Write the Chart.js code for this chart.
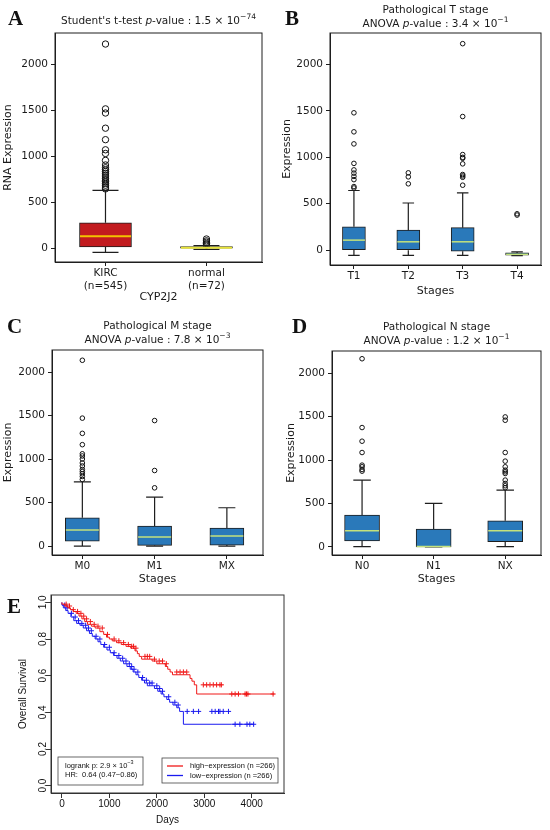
<!DOCTYPE html>
<html>
<head>
<meta charset="utf-8">
<title>CYP2J2 expression in KIRC</title>
<script src="https://cdn.jsdelivr.net/npm/chart.js@4.4.1/dist/chart.umd.min.js"></script>
<style>
  body { margin: 0; background: #fff; }
  #page { position: relative; width: 550px; height: 830px; overflow: hidden; background: #fff; }
  canvas { position: absolute; }
  .tag { position: absolute; font: bold 21px "Liberation Serif", serif; line-height: 21px; color: #111; }
</style>
</head>
<body>
<div id="page">
  <canvas id="chartA" width="275" height="304" style="left:0;top:0"></canvas>
  <canvas id="chartB" width="275" height="300" style="left:275px;top:0"></canvas>
  <canvas id="chartC" width="275" height="290" style="left:0;top:300px"></canvas>
  <canvas id="chartD" width="275" height="290" style="left:275px;top:300px"></canvas>
  <canvas id="chartE" width="290" height="240" style="left:0;top:590px"></canvas>
  <div class="tag" style="left:8px;top:8px">A</div>
  <div class="tag" style="left:285px;top:8px">B</div>
  <div class="tag" style="left:7px;top:316px">C</div>
  <div class="tag" style="left:292px;top:316px">D</div>
  <div class="tag" style="left:7px;top:596px">E</div>
</div>
<script>
// ---- data ----

// A: CYP2J2, tumour vs normal
var groupsA = [['KIRC', '(n=545)'], ['normal', '(n=72)']];
var q1A = [18, 0];
var medianA = [135, 10];
var q3A = [282, 22];
var lowA = [-40, -8];
var highA = [633, 32];
var outliersA = [
  [650, 670, 690, 710, 730, 745, 760, 780, 800, 820, 840, 860, 880, 910, 960, 1035, 1075, 1185, 1310, 1475, 1520, 2225],
  [40, 55, 70, 85, 105]
];

// B: pathological T stage
var stagesB = ['T1', 'T2', 'T3', 'T4'];
var q1B = [5, 0, -12, -55];
var medianB = [108, 90, 90, -45];
var q3B = [252, 215, 242, -30];
var lowB = [-57, -57, -57, -60];
var highB = [643, 508, 618, -18];
var outliersB = [
  [670, 685, 760, 795, 830, 865, 935, 1145, 1275, 1480],
  [715, 790, 833],
  [700, 785, 800, 815, 930, 990, 1000, 1030, 1440, 2225],
  [378, 392]
];

// C: pathological M stage
var stagesC = ['M0', 'M1', 'MX'];
var q1C = [57, 8, 11];
var medianC = [184, 103, 115];
var q3C = [325, 229, 206];
var lowC = [-2, -2, -2];
var highC = [738, 562, 440];
var outliersC = [
  [765, 800, 830, 855, 880, 920, 955, 1000, 1035, 1060, 1165, 1295, 1470, 2135],
  [669, 868, 1442],
  []
];

// D: pathological N stage
var stagesD = ['N0', 'N1', 'NX'];
var q1D = [69, 2, 61];
var medianD = [187, 5, 187];
var q3D = [367, 206, 302];
var lowD = [4, 0, 4];
var highD = [769, 501, 654];
var outliersD = [
  [872, 891, 922, 941, 1086, 1216, 1373, 2164],
  [],
  [681, 704, 730, 769, 845, 864, 883, 922, 987, 1086, 1457, 1495]
];

var exprTicks = [0, 500, 1000, 1500, 2000];

// E: Kaplan-Meier, high vs low expression
var hiDays = [0, 60, 120, 180, 240, 300, 360, 420, 480, 540, 620, 700, 800, 880, 940, 1000, 1060, 1150, 1250, 1350,
  1450, 1540, 1590, 1630, 1680, 1900, 2000, 2180, 2230, 2280, 2330, 2700, 2740, 2790, 2840, 3520, 4480];
var hiSurv = [1.000, 0.990, 0.980, 0.970, 0.960, 0.950, 0.940, 0.925, 0.910, 0.895, 0.880, 0.870, 0.860, 0.840, 0.825,
  0.810, 0.800, 0.790, 0.780, 0.770, 0.760, 0.750, 0.735, 0.720, 0.705, 0.690, 0.680, 0.665, 0.650, 0.635, 0.620,
  0.605, 0.585, 0.570, 0.550, 0.500, 0.500];
var loDays = [0, 30, 80, 130, 190, 250, 310, 380, 450, 520, 580, 640, 700, 760, 820, 880, 950, 1020, 1090, 1160, 1230,
  1300, 1370, 1440, 1500, 1560, 1620, 1680, 1740, 1800, 1950, 2020, 2090, 2150, 2210, 2270, 2340, 2420, 2480, 2560,
  3570, 4050];
var loSurv = [1.000, 0.985, 0.970, 0.955, 0.940, 0.920, 0.900, 0.885, 0.875, 0.860, 0.845, 0.830, 0.815, 0.800, 0.785,
  0.770, 0.755, 0.740, 0.725, 0.710, 0.695, 0.680, 0.665, 0.650, 0.635, 0.620, 0.605, 0.590, 0.575, 0.560, 0.545,
  0.530, 0.515, 0.500, 0.485, 0.470, 0.455, 0.440, 0.425, 0.405, 0.335, 0.335];
var hiCensor = [90, 160, 240, 330, 400, 460, 520, 600, 680, 760, 850, 960, 1100, 1200, 1300, 1400, 1470, 1510, 1560,
  1750, 1800, 1850, 1950, 2050, 2120, 2200, 2420, 2490, 2560, 2630, 2980, 3050, 3120, 3190, 3260, 3330, 3360, 3580,
  3650, 3720, 3860, 3890, 3920, 4450];
var loCensor = [60, 110, 200, 280, 350, 420, 500, 560, 620, 720, 800, 900, 1000, 1100, 1200, 1280, 1350, 1420, 1470,
  1520, 1600, 1700, 1780, 1850, 1900, 2000, 2060, 2120, 2250, 2380, 2450, 2640, 2770, 2880, 3160, 3230, 3300, 3330,
  3400, 3510, 3650, 3750, 3900, 3960, 4040];
var dayTicks = [0, 1000, 2000, 3000, 4000];
var survTicks = [0, 0.2, 0.4, 0.6, 0.8, 1.0];

// ---- styling ----
var EDGE = '#1e1e1e';
var TXT = '#1a1a1a';
var BLUE_BOX = '#2a79ba';
var GREEN_MED = '#c4e27c';

Chart.defaults.font.family = 'DejaVu Sans';
Chart.defaults.color = TXT;

// draw a run of text pieces (italic / superscript) starting at x
function drawRich(ctx, segs, x, y, size, family, centered) {
  var fonts = [], widths = [], total = 0;
  segs.forEach(function (s) {
    var f = (s.it ? 'italic ' : '') + (s.sup ? size * 0.72 : size) + 'px ' + family;
    ctx.font = f;
    var w = ctx.measureText(s.t).width;
    fonts.push(f); widths.push(w); total += w;
  });
  if (centered) x -= total / 2;
  segs.forEach(function (s, i) {
    ctx.font = fonts[i];
    ctx.fillText(s.t, x, y - (s.sup ? size * 0.42 : 0));
    x += widths[i];
  });
}

function titlePlugin(lines, ys) {
  return {
    id: 'richTitle',
    afterDraw: function (chart) {
      var a = chart.chartArea, ctx = chart.ctx;
      ctx.save();
      ctx.fillStyle = TXT;
      ctx.textBaseline = 'middle';
      ctx.textAlign = 'left';
      lines.forEach(function (segs, k) {
        drawRich(ctx, segs, (a.left + a.right) / 2, ys[k], 10.5, '"DejaVu Sans"', true);
      });
      ctx.restore();
    }
  };
}

var frame = {
  id: 'frame',
  afterDraw: function (chart) {
    var a = chart.chartArea, ctx = chart.ctx;
    ctx.save();
    ctx.strokeStyle = chart.options.frameColor || EDGE;
    ctx.lineWidth = 1;
    ctx.strokeRect(a.left, a.top, a.right - a.left, a.bottom - a.top);
    ctx.restore();
  }
};

function whiskers(d, medColor, medWidth) {
  return {
    id: 'whiskers',
    afterDatasetsDraw: function (chart) {
      var ctx = chart.ctx, ys = chart.scales.y;
      ctx.save();
      chart.getDatasetMeta(0).data.forEach(function (bar, i) {
        var cx = bar.x, hw = bar.width / 2;
        var pLo = ys.getPixelForValue(d.lo[i]), pHi = ys.getPixelForValue(d.hi[i]);
        var p1 = ys.getPixelForValue(d.q1[i]), p3 = ys.getPixelForValue(d.q3[i]);
        var pm = ys.getPixelForValue(d.med[i]);
        ctx.strokeStyle = EDGE;
        ctx.lineWidth = 1.2;
        ctx.beginPath();
        ctx.moveTo(cx, p3); ctx.lineTo(cx, pHi);
        ctx.moveTo(cx, p1); ctx.lineTo(cx, pLo);
        ctx.moveTo(cx - hw / 2, pHi); ctx.lineTo(cx + hw / 2, pHi);
        ctx.moveTo(cx - hw / 2, pLo); ctx.lineTo(cx + hw / 2, pLo);
        ctx.stroke();
        ctx.strokeStyle = Array.isArray(medColor) ? medColor[i] : medColor;
        ctx.lineWidth = medWidth;
        ctx.beginPath();
        ctx.moveTo(cx - hw + 0.5, pm); ctx.lineTo(cx + hw - 0.5, pm);
        ctx.stroke();
      });
      ctx.restore();
    }
  };
}

function boxChart(id, d, lay) {
  var boxes = [], dots = [];
  d.q1.forEach(function (v, i) {
    boxes.push({x: i + 1, y: [d.q1[i], d.q3[i]]});
    d.out[i].forEach(function (o) { dots.push({x: i + 1, y: o}); });
  });
  return new Chart(document.getElementById(id), {
    type: 'bar',
    data: {
      datasets: [
        {data: boxes, backgroundColor: lay.fill, borderColor: EDGE, borderWidth: 1,
          borderSkipped: false, barThickness: lay.boxW},
        {type: 'scatter', data: dots, pointRadius: lay.dot, borderWidth: 1,
          borderColor: '#111', backgroundColor: 'rgba(255,255,255,0)'}
      ]
    },
    options: {
      responsive: false,
      animation: false,
      layout: {padding: {top: lay.top, right: lay.right, left: 0, bottom: 0}},
      plugins: {legend: {display: false}, tooltip: {enabled: false}},
      scales: {
        x: {
          type: 'linear', min: lay.xMin, max: lay.xMax, offset: false,
          grid: {offset: false, drawOnChartArea: false, tickLength: 4, color: EDGE},
          border: {color: EDGE},
          afterBuildTicks: function (s) { s.ticks = d.labels.map(function (l, i) { return {value: i + 1}; }); },
          afterFit: function (s) { s.height = lay.xH; },
          ticks: {autoSkip: false, maxRotation: 0, padding: 1, color: TXT, font: {size: 10.5},
            callback: function (v) { return d.labels[v - 1]; }},
          title: {display: true, text: lay.xTitle, color: TXT, font: {size: 11},
            padding: {top: 0, bottom: lay.xTitlePad}}
        },
        y: {
          min: lay.yMin, max: lay.yMax,
          grid: {drawOnChartArea: false, tickLength: 4, color: EDGE},
          border: {color: EDGE},
          afterBuildTicks: function (s) { s.ticks = exprTicks.map(function (v) { return {value: v}; }); },
          afterFit: function (s) { s.width = lay.yW; },
          ticks: {padding: 3, color: TXT, font: {size: 10.5}, callback: function (v) { return String(v); }},
          title: {display: true, text: lay.yTitle, color: TXT, font: {size: 11},
            padding: {top: lay.yTitlePad, bottom: 0}}
        }
      }
    },
    plugins: [frame, titlePlugin(lay.title, lay.titleY), whiskers(d, lay.med, lay.medW)]
  });
}

function pTitle(head, mant, expo) {
  return [{t: head}, {t: 'p', it: true}, {t: '-value : ' + mant + ' \u00d7 10'}, {t: expo, sup: true}];
}

boxChart('chartA',
  {labels: groupsA, q1: q1A, med: medianA, q3: q3A, lo: lowA, hi: highA, out: outliersA},
  {top: 33, right: 13, yW: 55, xH: 42, xMin: 0.5, xMax: 2.55, yMin: -145, yMax: 2345,
    boxW: 52, dot: 3.2, fill: ['#c21b1f', '#cfc623'], med: ['#f3c300', '#e6e23a'], medW: 2,
    xTitle: 'CYP2J2', xTitlePad: 0, yTitle: 'RNA Expression', yTitlePad: 2,
    title: [pTitle("Student's t-test ", '1.5', '\u221274')], titleY: [21]});

boxChart('chartB',
  {labels: stagesB, q1: q1B, med: medianB, q3: q3B, lo: lowB, hi: highB, out: outliersB},
  {top: 33, right: 9, yW: 55, xH: 35, xMin: 0.56, xMax: 4.44, yMin: -160, yMax: 2340,
    boxW: 23, dot: 2.3, fill: BLUE_BOX, med: GREEN_MED, medW: 1.5,
    xTitle: 'Stages', xTitlePad: 2, yTitle: 'Expression', yTitlePad: 6,
    title: [[{t: 'Pathological T stage'}], pTitle('ANOVA ', '3.4', '\u22121')], titleY: [10, 24]});

boxChart('chartC',
  {labels: stagesC, q1: q1C, med: medianC, q3: q3C, lo: lowC, hi: highC, out: outliersC},
  {top: 50, right: 12, yW: 52, xH: 35, xMin: 0.58, xMax: 3.5, yMin: -103, yMax: 2253,
    boxW: 34, dot: 2.3, fill: BLUE_BOX, med: GREEN_MED, medW: 1.5,
    xTitle: 'Stages', xTitlePad: 4, yTitle: 'Expression', yTitlePad: 2,
    title: [[{t: 'Pathological M stage'}], pTitle('ANOVA ', '7.8', '\u22123')], titleY: [26, 40]});

boxChart('chartD',
  {labels: stagesD, q1: q1D, med: medianD, q3: q3D, lo: lowD, hi: highD, out: outliersD},
  {top: 51, right: 9, yW: 57, xH: 35, xMin: 0.58, xMax: 3.5, yMin: -92, yMax: 2253,
    boxW: 35, dot: 2.3, fill: BLUE_BOX, med: GREEN_MED, medW: 1.5,
    xTitle: 'Stages', xTitlePad: 4, yTitle: 'Expression', yTitlePad: 10,
    title: [[{t: 'Pathological N stage'}], pTitle('ANOVA ', '1.2', '\u22121')], titleY: [27, 41]});

// ---- E: survival curves ----
function stepPoints(ts, ss) {
  return ts.map(function (t, i) { return {x: t, y: ss[i]}; });
}
// a censor mark sits on the curve at its time
function censorPoints(cs, ts, ss) {
  return cs.map(function (c) {
    var s = ss[0];
    for (var i = 0; i < ts.length; i++) { if (ts[i] <= c) s = ss[i]; }
    return {x: c, y: s};
  });
}

var RED = '#f01818';
var BLUE = '#1a1aef';
var KM_FONT = '"Liberation Sans"';

var kmDecor = {
  id: 'kmDecor',
  afterDraw: function (chart) {
    var ctx = chart.ctx, a = chart.chartArea, ys = chart.scales.y;
    ctx.save();
    ctx.fillStyle = '#111';
    ctx.font = '10px ' + KM_FONT;
    ctx.textAlign = 'center';
    ctx.textBaseline = 'middle';
    survTicks.forEach(function (v) {
      ctx.save();
      ctx.translate(a.left - 8, ys.getPixelForValue(v));
      ctx.rotate(-Math.PI / 2);
      ctx.fillText(v.toFixed(1), 0, 0);
      ctx.restore();
    });

    // statistics box
    ctx.textAlign = 'left';
    ctx.strokeStyle = '#444';
    ctx.lineWidth = 0.8;
    var bx = a.left + 7, by = a.bottom - 36;
    ctx.strokeRect(bx, by, 85, 28);
    drawRich(ctx, [{t: 'logrank p: 2.9 \u00d7 10'}, {t: '\u22123', sup: true}], bx + 7, by + 8.5, 7.5, KM_FONT, false);
    drawRich(ctx, [{t: 'HR:  0.64 (0.47\u22120.86)'}], bx + 7, by + 18, 7.5, KM_FONT, false);

    // legend box
    var lx = a.right - 122, ly = a.bottom - 35;
    ctx.strokeRect(lx, ly, 116, 25);
    [[RED, 'high\u2212expression (n =266)'], [BLUE, 'low\u2212expression (n =266)']].forEach(function (row, k) {
      var yy = ly + 8 + k * 9.5;
      ctx.strokeStyle = row[0];
      ctx.lineWidth = 1.3;
      ctx.beginPath(); ctx.moveTo(lx + 5, yy); ctx.lineTo(lx + 21, yy); ctx.stroke();
      ctx.fillStyle = '#111';
      drawRich(ctx, [{t: row[1]}], lx + 28, yy, 7.5, KM_FONT, false);
    });
    ctx.restore();
  }
};

new Chart(document.getElementById('chartE'), {
  type: 'line',
  data: {
    datasets: [
      {data: stepPoints(hiDays, hiSurv), stepped: 'after', borderColor: RED, borderWidth: 1, pointRadius: 0, fill: false},
      {data: stepPoints(loDays, loSurv), stepped: 'after', borderColor: BLUE, borderWidth: 1, pointRadius: 0, fill: false},
      {type: 'scatter', data: censorPoints(hiCensor, hiDays, hiSurv), pointStyle: 'cross', pointRadius: 2.6,
        borderColor: RED, borderWidth: 1},
      {type: 'scatter', data: censorPoints(loCensor, loDays, loSurv), pointStyle: 'cross', pointRadius: 2.6,
        borderColor: BLUE, borderWidth: 1}
    ]
  },
  options: {
    responsive: false,
    animation: false,
    frameColor: '#333',
    layout: {padding: {top: 5, right: 6, left: 0, bottom: 0}},
    plugins: {legend: {display: false}, tooltip: {enabled: false}},
    scales: {
      x: {
        type: 'linear', min: -230, max: 4680,
        grid: {drawOnChartArea: false, tickLength: 5, color: '#333'},
        border: {color: '#333'},
        afterBuildTicks: function (s) { s.ticks = dayTicks.map(function (v) { return {value: v}; }); },
        afterFit: function (s) { s.height = 37; },
        ticks: {padding: 0, color: '#111', font: {family: 'Liberation Sans', size: 10},
          callback: function (v) { return String(v); }},
        title: {display: true, text: 'Days', color: '#111', font: {family: 'Liberation Sans', size: 10},
          padding: {top: 0, bottom: 4}}
      },
      y: {
        min: -0.04, max: 1.04,
        grid: {drawOnChartArea: false, tickLength: 5, color: '#333'},
        border: {color: '#333'},
        afterBuildTicks: function (s) { s.ticks = survTicks.map(function (v) { return {value: v}; }); },
        afterFit: function (s) { s.width = 51; },
        ticks: {display: false},
        title: {display: true, text: 'Overall Survival', color: '#111', font: {family: 'Liberation Sans', size: 10},
          padding: {top: 17, bottom: 0}}
      }
    }
  },
  plugins: [frame, kmDecor]
});
</script>
</body>
</html>
